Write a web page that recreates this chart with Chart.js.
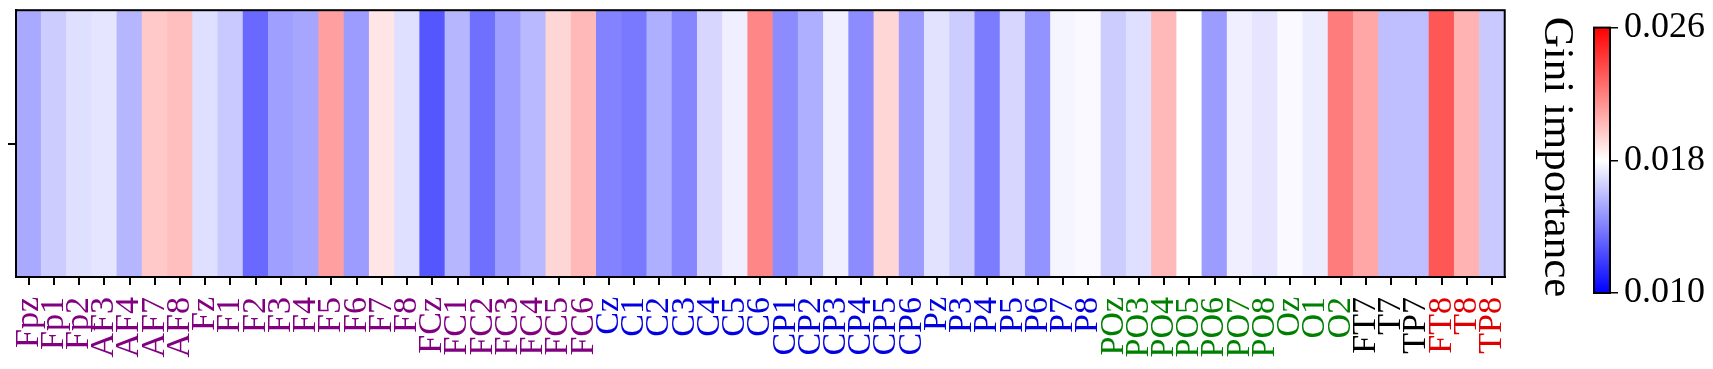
<!DOCTYPE html>
<html>
<head>
<meta charset="utf-8">
<script src="https://cdn.jsdelivr.net/npm/chart.js@4/dist/chart.umd.min.js"></script>
<style>
html,body{margin:0;padding:0;background:#fff;width:1713px;height:369px;overflow:hidden;}
#main{position:absolute;left:0;top:0;}
#cbar{position:absolute;left:1580px;top:0;}
#cbtitle{position:absolute;left:1559px;top:157px;transform:translate(-50%,-50%);writing-mode:vertical-rl;font-family:'Liberation Serif','Times New Roman',serif;font-size:43px;line-height:1;color:#000;white-space:nowrap;}
</style>
</head>
<body>
<canvas id="main" width="1545" height="369" style="width:1545px;height:369px"></canvas>
<canvas id="cbar" width="133" height="369" style="width:133px;height:369px"></canvas>
<div id="cbtitle">Gini importance</div>
<script>
// ---- data ----
const channels = ['Fpz','Fp1','Fp2','AF3','AF4','AF7','AF8','Fz','F1','F2','F3','F4','F5','F6','F7','F8',
  'FCz','FC1','FC2','FC3','FC4','FC5','FC6','Cz','C1','C2','C3','C4','C5','C6',
  'CP1','CP2','CP3','CP4','CP5','CP6','Pz','P3','P4','P5','P6','P7','P8',
  'POz','PO3','PO4','PO5','PO6','PO7','PO8','Oz','O1','O2','FT7','T7','TP7','FT8','T8','TP8'];
const importance = [0.0153,0.0164,0.0170,0.0172,0.0157,0.0197,0.0200,0.0170,0.0163,0.0133,0.0150,0.0152,0.0210,0.0149,0.0188,0.0170,
  0.0127,0.0157,0.0135,0.0150,0.0158,0.0193,0.0202,0.0141,0.0138,0.0155,0.0142,0.0167,0.0175,0.0218,
  0.0144,0.0155,0.0175,0.0144,0.0193,0.0149,0.0171,0.0164,0.0139,0.0167,0.0146,0.0177,0.0178,
  0.0164,0.0170,0.0202,0.0180,0.0149,0.0175,0.0172,0.0178,0.0174,0.0221,0.0208,0.0160,0.0160,0.0233,0.0204,0.0163];
const groupNames = ['frontal','central-parietal','occipital','left-temporal','right-temporal'];
const groupSizes = [23, 20, 10, 3, 3];
const groupColors = ['#800080', '#0000e0', '#008000', '#000000', '#e00000'];
const colorbarTicks = [0.010, 0.018, 0.026];
const vmin = 0.010, vmax = 0.026;

const FONT = "'Liberation Serif', 'Times New Roman', serif";

// ---- helpers ----
function bwr(v){
  let t = (v - vmin) / (vmax - vmin);
  t = Math.max(0, Math.min(1, t));
  let r, g, b;
  if (t < 0.5){ const s = t * 2; r = 255 * s; g = 255 * s; b = 255; }
  else { const s = (t - 0.5) * 2; r = 255; g = 255 * (1 - s); b = 255 * (1 - s); }
  return `rgb(${Math.round(r)},${Math.round(g)},${Math.round(b)})`;
}
const labelColors = [];
groupSizes.forEach((n, gi) => { for (let k = 0; k < n; k++) labelColors.push(groupColors[gi]); });

const frame = {
  id: 'frame',
  afterDatasetsDraw(chart){
    const {ctx, chartArea: a} = chart;
    ctx.save();
    ctx.strokeStyle = '#000';
    ctx.lineWidth = 2;
    ctx.strokeRect(a.left, a.top, a.right - a.left, a.bottom - a.top);
    ctx.restore();
  }
};

Chart.defaults.font.family = FONT;

// ---- heatmap strip ----
new Chart(document.getElementById('main'), {
  type: 'bar',
  data: {
    labels: channels,
    datasets: [{
      data: importance.map(() => [0, 1]),
      backgroundColor: importance.map(bwr),
      borderWidth: 0,
      categoryPercentage: 1,
      barPercentage: 1
    }]
  },
  options: {
    responsive: false,
    animation: false,
    events: [],
    plugins: { legend: { display: false }, tooltip: { enabled: false } },
    layout: { padding: { top: 9, right: 11, left: 0, bottom: 0 } },
    scales: {
      x: {
        offset: true,
        grid: { display: true, offset: false, drawOnChartArea: false, drawTicks: true, tickLength: 8, color: '#000', lineWidth: 2 },
        border: { display: true, color: '#000', width: 2 },
        ticks: {
          autoSkip: false, minRotation: 90, maxRotation: 90, padding: 12,
          font: { family: FONT, size: 34 },
          color: (c) => labelColors[c.index]
        },
        afterFit(s){ s.height = 92; }
      },
      y: {
        min: 0, max: 1,
        afterBuildTicks(s){ s.ticks = [{ value: 0.5 }]; },
        ticks: { callback: () => '' },
        grid: { drawOnChartArea: false, drawTicks: true, tickLength: 8, color: '#000', lineWidth: 2 },
        border: { display: true, color: '#000', width: 2 },
        afterFit(s){ s.width = 16; }
      }
    }
  },
  plugins: [frame]
});

// ---- colorbar ----
new Chart(document.getElementById('cbar'), {
  type: 'bar',
  data: {
    labels: [''],
    datasets: [{
      data: [[vmin, vmax]],
      backgroundColor: (c) => {
        const a = c.chart.chartArea;
        if (!a) return '#fff';
        const g = c.chart.ctx.createLinearGradient(0, a.bottom, 0, a.top);
        g.addColorStop(0, bwr(vmin));
        g.addColorStop(0.5, bwr((vmin + vmax) / 2));
        g.addColorStop(1, bwr(vmax));
        return g;
      },
      borderWidth: 0,
      categoryPercentage: 1,
      barPercentage: 1
    }]
  },
  options: {
    responsive: false,
    animation: false,
    events: [],
    plugins: { legend: { display: false }, tooltip: { enabled: false } },
    layout: { padding: { top: 20, bottom: 76, left: 14, right: 0 } },
    scales: {
      x: { display: false },
      y: {
        position: 'right',
        min: vmin, max: vmax,
        afterBuildTicks(s){ s.ticks = colorbarTicks.map(v => ({ value: v })); },
        ticks: { callback: (v) => Number(v).toFixed(3), font: { family: FONT, size: 36 }, color: '#000', padding: 6 },
        grid: { drawOnChartArea: false, drawTicks: true, tickLength: 8, color: '#000', lineWidth: 1.5 },
        border: { display: true, color: '#000', width: 1.5 },
        afterFit(s){ s.width = 103; }
      }
    }
  },
  plugins: [frame]
});
</script>
</body>
</html>
